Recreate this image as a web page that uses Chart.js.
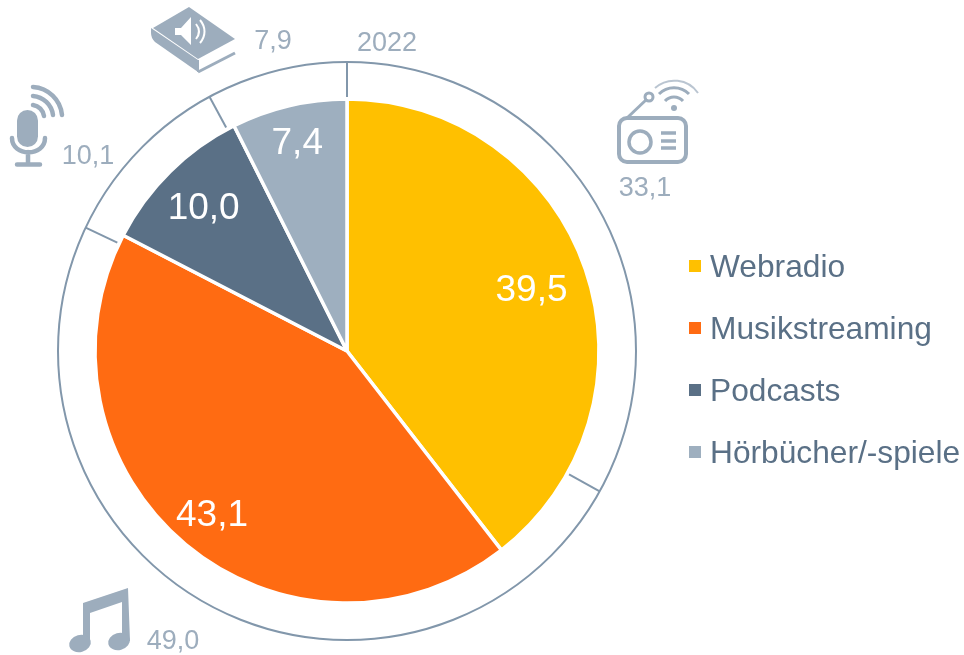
<!DOCTYPE html>
<html lang="de">
<head>
<meta charset="utf-8">
<title>Audionutzung</title>
<script src="https://cdn.jsdelivr.net/npm/chart.js@4"></script>
<style>
    body { margin: 0; background: #fff; }
    #wrap { position: relative; width: 964px; height: 655px; overflow: hidden; font-family: "Liberation Sans", Arial, sans-serif; }
    #chart { position: absolute; left: 0; top: 0; }
    #icons { position: absolute; left: 0; top: 0; pointer-events: none; }
    .legend-item { position: absolute; left: 689px; color: #5a7086; font-size: 31.7px; line-height: 36px; white-space: nowrap; }
    .legend-item i { position: absolute; left: 0; top: 12px; width: 12px; height: 12px; }
    .legend-item span { position: absolute; left: 21px; top: 0; }
</style>
</head>
<body>
<div id="wrap">
    <canvas id="chart" width="964" height="655"></canvas>
    <svg id="icons" width="964" height="655" viewBox="0 0 964 655">
        <!-- radio -->
        <g fill="none" stroke="#9dadbd">
            <rect x="619" y="118" width="67" height="44" rx="8" stroke-width="4"/>
            <circle cx="640" cy="142" r="11" stroke-width="3.5"/>
            <path d="M661 133h15M661 141h15M661 148h15" stroke-width="3.5"/>
            <path d="M627 118L647 99" stroke-width="3"/>
            <circle cx="649" cy="97" r="4" stroke-width="3"/>
            <path d="M665 101a12 12 0 0 1 18 0M659 94a21 21 0 0 1 30 0" stroke-width="3"/>
            <path d="M655 88a29 29 0 0 1 43 5" stroke-width="2" opacity="0.7"/>
        </g>
        <circle cx="674" cy="108" r="3" fill="#9dadbd"/>
        <!-- microphone -->
        <g fill="none" stroke="#9dadbd" stroke-linecap="round">
            <rect x="17" y="110" width="21" height="37" rx="10.5" fill="#9dadbd" stroke="none"/>
            <path d="M12 138c0 19 33 19 33 0M28 152v12M17 164.500h23" stroke-width="4.500"/>
            <path d="M33 105a13 13 0 0 1 11 11M33 96a22 22 0 0 1 20 19M33 87a31 31 0 0 1 29 28" stroke-width="4.500"/>
        </g>
        <!-- audio book -->
        <path d="M189 7L235 39L198 59L153 28Z" fill="#9dadbd"/>
        <path d="M151 28L198 60L198 72L155 42Q151 38 151 33Z" fill="#9dadbd"/>
        <path d="M198 72L235 53" fill="none" stroke="#9dadbd" stroke-width="3"/>
        <path d="M198 60L198 72" fill="none" stroke="#9dadbd" stroke-width="2"/>
        <path d="M175 28h6l10-11v28l-10-10h-6Z" fill="#fff"/>
        <path d="M196 24c4 5 4 10 0 15M200 20c6 7 6 16 0 23" fill="none" stroke="#fff" stroke-width="2"/>
        <!-- note -->
        <path d="M83 603L128 588L130 641H122L122 602L90 613L90 644H83Z" fill="#9dadbd"/>
        <ellipse cx="80" cy="643.500" rx="11" ry="8.500" fill="#9dadbd" transform="rotate(-15 80 643.500)"/>
        <ellipse cx="119" cy="641.500" rx="11" ry="8.500" fill="#9dadbd" transform="rotate(-15 119 641.500)"/>
    </svg>
    <div id="legend"></div>
</div>
<script>
const categories = ["Webradio", "Musikstreaming", "Podcasts", "Hörbücher/-spiele"];
const values2023 = [39.5, 43.1, 10.0, 7.4];
const values2022 = [33.1, 49.0, 10.1, 7.9];
const ringLabel = "2022";

const colors = ["#ffc000", "#ff6b12", "#5a7086", "#9eafbf"];
const ringColor = "#8297ab";
const mutedText = "#9dadbd";

// how far from the centre each inner label sits, and where the 2022 figures go
const labelRadius = [195, 211, 204, 216];
const ringLabelPos = [[645, 189], [173, 642], [88, 157], [273, 42]];
const legendTops = [248, 310, 372, 434];

function commaNumber(v) {
    return v.toFixed(1).replace(".", ",");
}

const ringAndLabels = {
    id: "ringAndLabels",
    afterDatasetsDraw: function(chart) {
        const ctx = chart.ctx;
        const ring = chart.getDatasetMeta(0).data;
        const pie = chart.getDatasetMeta(1).data;
        const cx = ring[0].x;
        const cy = ring[0].y;
        const outer = ring[0].outerRadius;
        const inner = ring[0].innerRadius + 2;

        ctx.save();
        ctx.strokeStyle = ringColor;
        ctx.lineWidth = 2;
        ctx.beginPath();
        ctx.arc(cx, cy, outer, 0, Math.PI * 2);
        ctx.stroke();
        ring.forEach(function(arc) {
            ctx.beginPath();
            ctx.moveTo(cx + Math.cos(arc.startAngle) * inner, cy + Math.sin(arc.startAngle) * inner);
            ctx.lineTo(cx + Math.cos(arc.startAngle) * outer, cy + Math.sin(arc.startAngle) * outer);
            ctx.stroke();
        });

        ctx.textAlign = "center";
        ctx.textBaseline = "middle";
        ctx.font = '37px "Liberation Sans", Arial, sans-serif';
        ctx.fillStyle = "#fff";
        pie.forEach(function(arc, i) {
            const mid = (arc.startAngle + arc.endAngle) / 2;
            ctx.fillText(commaNumber(values2023[i]), cx + Math.cos(mid) * labelRadius[i], cy + Math.sin(mid) * labelRadius[i] + 3);
        });

        ctx.font = '27px "Liberation Sans", Arial, sans-serif';
        ctx.fillStyle = mutedText;
        values2022.forEach(function(v, i) {
            ctx.fillText(commaNumber(v), ringLabelPos[i][0], ringLabelPos[i][1]);
        });
        ctx.fillText(ringLabel, 387, 44);
        ctx.restore();
    }
};

new Chart(document.getElementById("chart"), {
    type: "pie",
    data: {
        labels: categories,
        datasets: [
            { data: values2022, weight: 37, backgroundColor: "rgba(0,0,0,0)", borderWidth: 0 },
            { data: values2023, weight: 252, backgroundColor: colors, borderColor: "#fff", borderWidth: 3.5 }
        ]
    },
    options: {
        responsive: false,
        animation: false,
        radius: 289,
        layout: { padding: { top: 47, right: 270 } },
        plugins: { legend: { display: false }, tooltip: { enabled: false } }
    },
    plugins: [ringAndLabels]
});

let html = "";
categories.forEach(function(name, i) {
    html += "<div class='legend-item' style='top: " + legendTops[i] + "px;'>";
    html += "<i style='background-color: " + colors[i] + ";'></i><span>" + name + "</span></div>";
});
document.getElementById("legend").innerHTML = html;
</script>
</body>
</html>
